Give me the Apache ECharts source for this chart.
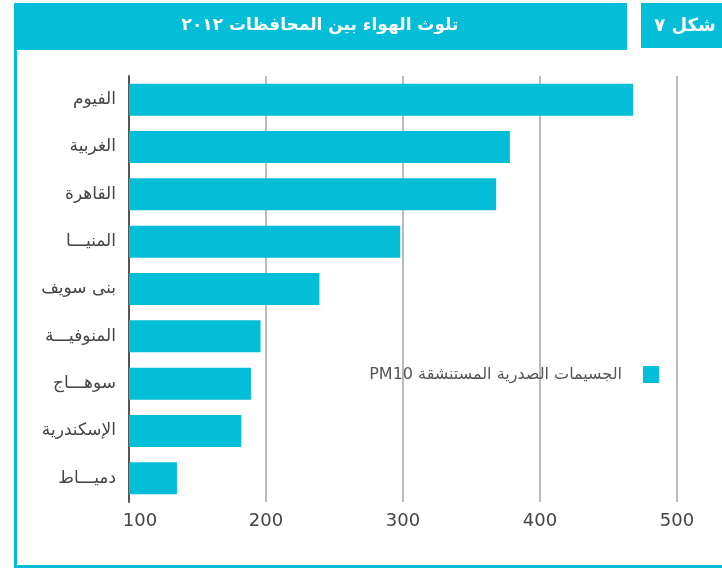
<!DOCTYPE html>
<html>
<head>
<meta charset="utf-8">
<script src="https://cdn.jsdelivr.net/npm/echarts@6/dist/echarts.min.js"></script>
<style>
html,body{margin:0;padding:0;background:#fff;}
#main{width:722px;height:568px;}
</style>
</head>
<body>
<div id="main" dir="rtl"></div>
<script>
// provinces, top to bottom
var provinces = ['الفيوم', 'الغربية', 'القاهرة', 'المنيـــا', 'بنى سويف', 'المنوفيـــة', 'سوهـــاج', 'الإسكندرية', 'دميـــاط'];
var pm10 = [468, 378, 368, 298, 239, 196, 189, 182, 135];
var seriesName = 'الجسيمات الصدرية المستنشقة PM10';
var chartTitle = 'تلوث الهواء بين المحافظات ٢٠١٢';
var figLabel = 'شكل ٧';

var cyan = '#03bed6';
var font = '"DejaVu Sans", "Noto Sans", sans-serif';

var myChart = echarts.init(document.getElementById('main'));
var option = {
    animation: false,
    textStyle: {fontFamily: font},
    graphic: [
        {type: 'rect', shape: {x: 14, y: 3, width: 613, height: 47}, style: {fill: cyan}},
        {type: 'rect', shape: {x: 641, y: 3, width: 81, height: 45}, style: {fill: cyan}},
        {type: 'rect', shape: {x: 14, y: 3, width: 3, height: 565}, style: {fill: cyan}},
        {type: 'rect', shape: {x: 14, y: 565, width: 708, height: 3}, style: {fill: cyan}},
        {type: 'text', x: 320, y: 26, style: {text: chartTitle, fill: '#fff', font: 'bold 17px ' + font, align: 'center', verticalAlign: 'middle'}},
        {type: 'text', x: 685, y: 26, style: {text: figLabel, fill: '#fff', font: '600 18px ' + font, align: 'center', verticalAlign: 'middle'}}
    ],
    legend: {
        data: [seriesName],
        right: 63,
        top: 366,
        padding: 0,
        align: 'right',
        icon: 'rect',
        itemWidth: 16,
        itemHeight: 17,
        textStyle: {color: '#555', fontSize: 16, padding: [0, 16, 0, 0]}
    },
    grid: {
        left: 129,
        top: 76,
        width: 548,
        height: 426,
        containLabel: false
    },
    xAxis: {
        type: 'value',
        min: 100,
        max: 500,
        interval: 100,
        axisLine: {show: false},
        axisTick: {show: false},
        axisLabel: {
            color: '#444',
            fontSize: 18,
            margin: 10,
            formatter: function (v) {
                return v === 100 ? '{first|' + v + '}' : v;
            },
            rich: {
                first: {color: '#444', fontSize: 18, padding: [0, 0, 0, 22]}
            }
        },
        splitLine: {lineStyle: {color: '#bbb', width: 2}}
    },
    yAxis: {
        type: 'category',
        inverse: true,
        data: provinces,
        axisLine: {lineStyle: {color: '#555', width: 2}},
        axisTick: {show: false},
        axisLabel: {color: '#444', fontSize: 17, margin: 13}
    },
    series: [
        {
            name: seriesName,
            type: 'bar',
            data: pm10,
            barWidth: 32,
            itemStyle: {color: cyan}
        }
    ]
};
myChart.setOption(option);
</script>
</body>
</html>
